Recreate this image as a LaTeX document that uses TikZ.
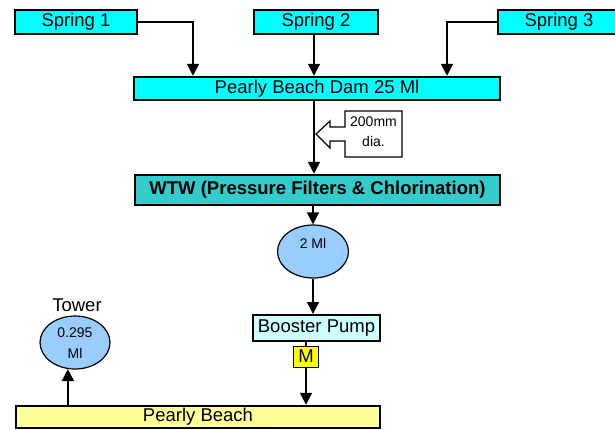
\documentclass[tikz,border=0pt]{standalone}
\usepackage{fontspec}
\setmainfont{Liberation Sans}
\usetikzlibrary{arrows.meta,shapes.geometric}
\definecolor{cyanbox}{HTML}{00FFFF}
\definecolor{wtwcol}{HTML}{33CCCC}
\definecolor{tankcol}{HTML}{99CCFF}
\definecolor{pumpcol}{HTML}{CCFFFF}
\definecolor{mcol}{HTML}{FFFF00}
\definecolor{beachcol}{HTML}{FFFF99}
\tikzset{
  big/.style={font=\fontsize{18.5}{20}\selectfont},
  small/.style={font=\fontsize{14}{16}\selectfont},
  box/.style={draw=black, line width=2.5pt, rectangle, inner sep=0pt, big},
  tank/.style={draw=black, line width=1.2pt, ellipse, fill=tankcol, inner sep=0pt},
  conn/.style={draw=black, line width=1.5pt},
  arr/.style={conn, -{Triangle[width=12pt,length=12pt]}},
}
\begin{document}
\begin{tikzpicture}[x=1pt,y=-1pt]
\useasboundingbox (0,0) rectangle (615,429);
% boxes
\node[box, fill=cyanbox, minimum width=122pt, minimum height=24pt] (s1) at (76,22) {Spring 1};
\node[box, fill=cyanbox, minimum width=124pt, minimum height=24pt] (s2) at (316,22) {Spring 2};
\node[box, fill=cyanbox, minimum width=122pt, minimum height=24pt] (s3) at (559,22) {Spring 3};
\node[box, fill=cyanbox, minimum width=366pt, minimum height=23pt] (dam) at (317,88.5) {Pearly Beach Dam 25 Ml};
\node[box, fill=wtwcol, minimum width=365pt, minimum height=30pt, font=\fontsize{18.5}{20}\selectfont\bfseries] (wtw) at (317.5,190) {WTW (Pressure Filters \& Chlorination)};
\node[tank, minimum width=71pt, minimum height=53pt] (t2) at (313,251.5) {};
\node[small, inner sep=0pt] (t2l) at (313,243) {2 Ml};
\node[box, line width=2pt, fill=pumpcol, minimum width=127pt, minimum height=26pt] (pump) at (316.5,328) {Booster Pump};
\node[draw=black, line width=1pt, fill=mcol, rectangle, inner sep=0pt, minimum width=25pt, minimum height=21pt, big] (m) at (306,356.5) {M};
\node[box, fill=beachcol, minimum width=364pt, minimum height=22pt] (beach) at (198,417) {Pearly Beach};
\node[tank, minimum width=70pt, minimum height=53pt] (tw) at (75,342.5) {};
\node[small, inner sep=0pt] (twa) at (75,333) {0.295};
\node[small, inner sep=0pt] (twb) at (75,353) {Ml};
\node[big, inner sep=0pt] (twl) at (77,305) {Tower};
% callout
\coordinate (mx) at (314,0);
\draw[line width=1.2pt, fill=white] (345,111) -- (402,111) -- (402,157) -- (345,157) -- (345,141) -- (330,141) -- (330,148) -- (316,134) -- (330,121) -- (330,127) -- (345,127) -- cycle;
\node[small, inner sep=0pt] (c1) at (373.5,122) {200mm};
\node[small, inner sep=0pt] (c2) at (373.5,141) {dia.};
% connectors
\coordinate (k1) at (193,22);
\coordinate (k3) at (447,22);
\draw[arr] (s1.east) -- (k1) -- (k1 |- dam.north);
\draw[arr] (s2.south -| mx) -- (dam.north -| mx);
\draw[arr] (s3.west) -- (k3) -- (k3 |- dam.north);
\draw[arr] (dam.south -| mx) -- (wtw.north -| mx);
\draw[arr] (wtw.south -| t2.north) -- (t2.north);
\draw[arr] (t2.south) -- (pump.north -| t2.south);
\draw[conn] (pump.south -| m.north) -- (m.north);
\draw[arr] (m.south) -- (m.south |- beach.north);
\draw[arr] (beach.north -| tw.255) -- (tw.255);
\end{tikzpicture}
\end{document}
